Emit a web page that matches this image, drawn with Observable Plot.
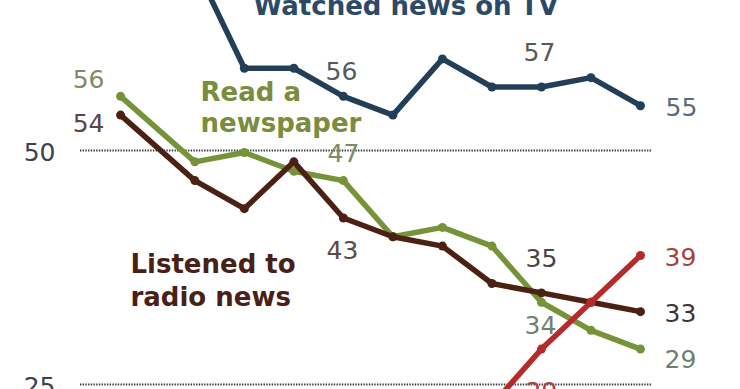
<!DOCTYPE html>
<html><head><meta charset="utf-8">
<script src="https://cdn.jsdelivr.net/npm/d3@7"></script>
<script src="https://cdn.jsdelivr.net/npm/@observablehq/plot@0.6"></script>
<style>
html,body{margin:0;padding:0;background:#fff;}
#chart{width:740px;height:389px;overflow:hidden;}
#chart svg{overflow:hidden;}
</style>
</head><body><div id="chart"></div>
<script>
// ---- data ----
const years = [1991, 1994, 1996, 1998, 2000, 2002, 2004, 2006, 2008, 2010, 2012];
const tvValues = [68, 70, 59, 59, 56, 54, 60, 57, 57, 58, 55];
const paperValues = [56, 49, 50, 48, 47, 41, 42, 40, 34, 31, 29];
const radioValues = [54, 47, 44, 49, 43, 41, 40, 36, 35, 34, 33];
const onlineYears = [2006, 2008, 2010, 2012];
const onlineValues = [23, 29, 34, 39];
const gridValues = [50, 25];
const seriesNames = {
  tv: "Watched news on TV",
  paper: "Read a\nnewspaper",
  radio: "Listened to\nradio news"
};

// ---- presentation ----
const colors = {tv: "#233f58", paper: "#76933a", radio: "#4b2113", online: "#b52b2b"};
const nameColors = {tv: "#2b4a68", paper: "#7a8c3e", radio: "#4a1f16"};

const rows = s => (s === "online" ? onlineYears : years).map((year, i) => ({
  year,
  value: {tv: tvValues, paper: paperValues, radio: radioValues, online: onlineValues}[s][i],
  s
}));
const tv = rows("tv"), paper = rows("paper"), radio = rows("radio"), online = rows("online");
const find = (arr, y) => arr.find(d => d.year === y);

// value labels: which point, pixel offset, colour
const valueLabels = [
  {p: find(paper, 1991), dx: -32, dy: -16, fill: "#7d8a6a"},
  {p: find(radio, 1991), dx: -32, dy: 9, fill: "#5c4444"},
  {p: find(tv, 2000), dx: -2, dy: -24, fill: "#555a5a"},
  {p: find(paper, 2000), dx: 0, dy: -27, fill: "#7d8a6a"},
  {p: find(radio, 2000), dx: -1, dy: 33, fill: "#5c4a4a"},
  {p: find(tv, 2008), dx: -2, dy: -34, fill: "#5a5a55"},
  {p: find(tv, 2012), dx: 41, dy: 2, fill: "#5a6b7c"},
  {p: find(radio, 2008), dx: 0, dy: -34, fill: "#4a4444"},
  {p: find(paper, 2008), dx: -1, dy: 24, fill: "#6f8070"},
  {p: find(online, 2012), dx: 40, dy: 3, fill: "#a8403c"},
  {p: find(radio, 2012), dx: 40, dy: 2, fill: "#3d3535"},
  {p: find(paper, 2012), dx: 40, dy: 11, fill: "#6f8070"},
  {p: find(online, 2008), dx: 0, dy: 43, fill: "#a8403c"}
];

// series-name annotation anchors (data space)
const nameAnchors = [
  {s: "tv", year: 1996.37, value: 64.74, lh: 1.2},
  {s: "paper", year: 1994.23, value: 52.14, lh: 1.2},
  {s: "radio", year: 1991.40, value: 33.65, lh: 1.27}
];

const lineOpts = (data, c) => [
  Plot.line(data, {x: "year", y: "value", stroke: c, strokeWidth: 5.5, strokeLinejoin: "round", strokeLinecap: "round"}),
  Plot.dot(data, {x: "year", y: "value", fill: c, r: 4.5})
];

const chart = Plot.plot({
  width: 740,
  height: 389,
  marginTop: 0, marginBottom: 0, marginLeft: 0, marginRight: 0,
  x: {domain: [1986.15, 2016.04], axis: null},
  y: {domain: [24.68, 66.24], axis: null},
  style: {background: "#fff", overflow: "hidden"},
  marks: [
    Plot.ruleY(gridValues, {x1: 1989.38, x2: 2012.49, dy: -2, stroke: "#3a3a3a", strokeWidth: 2.2, strokeDasharray: "1.4,1.3"}),
    Plot.text(gridValues, {x: () => 1987.73, y: d => d, text: d => String(d), fontSize: 25, fontFamily: "DejaVu Sans", fill: "#3b4250", dy: 0}),
    ...lineOpts(tv, colors.tv),
    ...lineOpts(paper, colors.paper),
    ...lineOpts(radio, colors.radio),
    ...lineOpts(online, colors.online),
    ...valueLabels.map(l => Plot.text([l.p], {x: "year", y: "value", text: d => String(d.value), dx: l.dx, dy: l.dy, fill: l.fill, fontSize: 25, fontFamily: "DejaVu Sans"})),
    ...nameAnchors.map(a => Plot.text([a], {x: "year", y: "value", text: d => seriesNames[d.s], textAnchor: "start", lineAnchor: "bottom", lineHeight: a.lh, fill: nameColors[a.s], fontSize: 26, fontWeight: "bold", fontFamily: "DejaVu Sans"}))
  ]
});
document.getElementById("chart").appendChild(chart);
</script>
</body></html>
